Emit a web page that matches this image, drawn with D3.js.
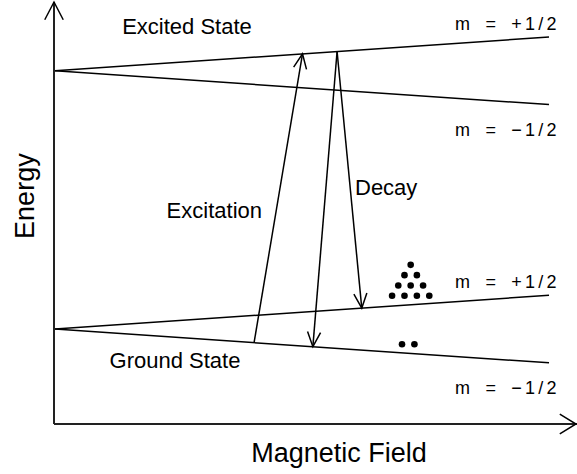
<!DOCTYPE html>
<html>
<head>
<meta charset="utf-8">
<script src="https://cdn.jsdelivr.net/npm/d3@7"></script>
<style>
  body { margin: 0; background: #fff; }
  text { font-family: "Liberation Sans", Arial, sans-serif; fill: #000; }
</style>
</head>
<body>
<svg id="chart" width="577" height="474"></svg>
<script>
// energy levels (field 0..1, energy 0..10)
const states = ["Excited State", "Ground State"];
const zeroFieldEnergy = [8.37, 2.25];
const spins = ["+1/2", "−1/2"];
const spinSign = [1, -1];
const splitAtMaxField = 0.8;

// transitions: [state, spin, field] -> [state, spin, field]
const transitionNames = ["Excitation", "Decay", "Decay"];
const transitionFrom = [["Ground State", "−1/2", 0.403], ["Excited State", "+1/2", 0.571], ["Excited State", "+1/2", 0.571]];
const transitionTo = [["Excited State", "+1/2", 0.501], ["Ground State", "−1/2", 0.522], ["Ground State", "+1/2", 0.621]];

// populations drawn as dots above the ground levels
const populationSpin = ["+1/2", "−1/2"];
const populationRows = [[1, 2, 3, 4], [2]];
const populationField = [0.72, 0.715];

const svg = d3.select("#chart");
const x = d3.scaleLinear().domain([0, 1]).range([55, 549]);
const y = d3.scaleLinear().domain([0, 10]).range([424, 2]);

function energy(state, spin, field) {
  const i = states.indexOf(state);
  return zeroFieldEnergy[i] + spinSign[spins.indexOf(spin)] * splitAtMaxField * field;
}

function arrowHead(g, tx, ty, fx, fy, len = 16, ang = 0.42) {
  const a = Math.atan2(fy - ty, fx - tx);
  const p = [
    [tx + len * Math.cos(a - ang), ty + len * Math.sin(a - ang)],
    [tx, ty],
    [tx + len * Math.cos(a + ang), ty + len * Math.sin(a + ang)]
  ];
  g.append("path").attr("d", d3.line()(p))
    .attr("fill", "none").attr("stroke", "#000").attr("stroke-width", 1.5);
}

// axes
const axes = svg.append("g").attr("stroke", "#222").attr("stroke-width", 2).attr("fill", "none");
axes.append("line").attr("x1", x(0) - 1).attr("y1", y(0)).attr("x2", x(0) - 1).attr("y2", y(10));
axes.append("line").attr("x1", x(0) - 1).attr("y1", y(0)).attr("x2", 577).attr("y2", y(0));
arrowHead(axes, x(0) - 1, y(10), x(0) - 1, y(9), 20, 0.48);
arrowHead(axes, 576, y(0), 500, y(0), 19, 0.55);

svg.append("text").attr("x", 339).attr("y", 462).attr("text-anchor", "middle")
  .style("font-size", "27px").text("Magnetic Field");
svg.append("text").attr("transform", `translate(34,${y(5.4)}) rotate(-90)`)
  .attr("text-anchor", "middle").style("font-size", "27px").text("Energy");

// levels
const levels = [];
states.forEach(s => spins.forEach(m => levels.push({ state: s, spin: m })));

svg.append("g").selectAll("line").data(levels).join("line")
  .attr("x1", x(0)).attr("y1", d => y(energy(d.state, d.spin, 0)))
  .attr("x2", x(1)).attr("y2", d => y(energy(d.state, d.spin, 1)))
  .attr("stroke", "#000").attr("stroke-width", 1.5);

// spin labels
svg.append("g").selectAll("text").data(levels).join("text")
  .attr("x", 455)
  .attr("y", d => y(energy(d.state, d.spin, 1)) + (d.spin === "+1/2" ? -7 : 31))
  .style("font-size", "18px").style("letter-spacing", "3.2px").style("word-spacing", "4px")
  .text(d => `m = ${d.spin}`);

// state labels
svg.append("text").attr("x", 187).attr("y", 34).attr("text-anchor", "middle")
  .style("font-size", "22px").text(states[0]);
svg.append("text").attr("x", 175).attr("y", 368).attr("text-anchor", "middle")
  .style("font-size", "22px").text(states[1]);

// transitions
const tg = svg.append("g");
transitionNames.forEach((name, i) => {
  const f = transitionFrom[i], t = transitionTo[i];
  const x1 = x(f[2]), y1 = y(energy(f[0], f[1], f[2]));
  const x2 = x(t[2]), y2 = y(energy(t[0], t[1], t[2]));
  tg.append("line").attr("x1", x1).attr("y1", y1).attr("x2", x2).attr("y2", y2)
    .attr("stroke", "#000").attr("stroke-width", 1.5);
  arrowHead(tg, x2, y2, x1, y1);
});
svg.append("text").attr("x", 262).attr("y", 218).attr("text-anchor", "end")
  .style("font-size", "22px").text(transitionNames[0]);
svg.append("text").attr("x", 355).attr("y", 195)
  .style("font-size", "22px").text(transitionNames[1]);

// population dots
const dots = [];
populationSpin.forEach((m, k) => {
  const f = populationField[k];
  const cx = x(f), base = y(energy("Ground State", m, f)) - 9;
  const rows = populationRows[k];
  rows.forEach((n, r) => {
    const row = rows.length - 1 - r;
    for (let j = 0; j < n; j++) {
      dots.push({ cx: cx + (j - (n - 1) / 2) * 12.4, cy: base - row * 10.3 });
    }
  });
});
svg.append("g").selectAll("circle").data(dots).join("circle")
  .attr("cx", d => d.cx).attr("cy", d => d.cy).attr("r", 3.3).attr("fill", "#000");
</script>
</body>
</html>
